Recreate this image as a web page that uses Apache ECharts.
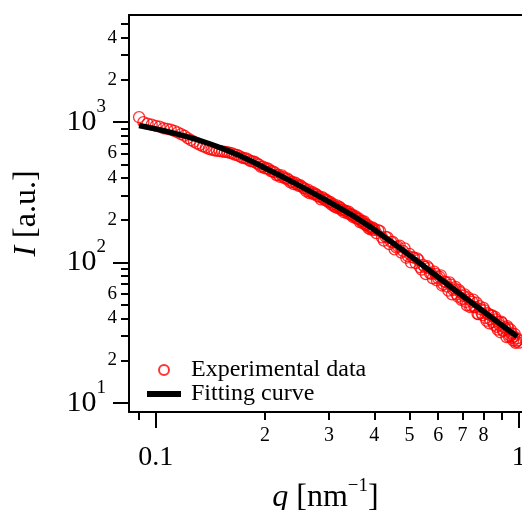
<!DOCTYPE html>
<html>
<head>
<meta charset="utf-8">
<script src="https://cdn.jsdelivr.net/npm/echarts@6/dist/echarts.min.js"></script>
<style>
  html, body { margin: 0; padding: 0; background: #fff; }
  #chart { width: 522px; height: 510px; }
</style>
</head>
<body>
<div id="chart"></div>
<script>
// measured points, q in nm^-1, I in a.u.
const expQ = [
  0.0900, 0.0925, 0.0950, 0.0975, 0.1000, 0.1025, 0.1050, 0.1075, 0.1100, 0.1125,
  0.1150, 0.1175, 0.1200, 0.1225, 0.1250, 0.1275, 0.1300, 0.1325, 0.1350, 0.1375,
  0.1400, 0.1425, 0.1450, 0.1475, 0.1500, 0.1525, 0.1550,
  0.1575, 0.1600, 0.1625, 0.1650, 0.1675, 0.1700, 0.1725, 0.1750, 0.1775, 0.1800,
  0.1825, 0.1850, 0.1875, 0.1900, 0.1925, 0.1950, 0.1975, 0.2000, 0.2025, 0.2050,
  0.2075, 0.2100, 0.2125, 0.2150, 0.2175, 0.2200, 0.2225, 0.2250, 0.2275, 0.2300,
  0.2325, 0.2350, 0.2375, 0.2400, 0.2425, 0.2450, 0.2475, 0.2500, 0.2525, 0.2550,
  0.2575, 0.2600, 0.2625, 0.2650, 0.2675, 0.2700, 0.2725, 0.2750, 0.2775, 0.2800,
  0.2825, 0.2850, 0.2875, 0.2900, 0.2925, 0.2950, 0.2975, 0.3000, 0.3025, 0.3050,
  0.3075, 0.3100, 0.3125, 0.3150, 0.3175, 0.3200, 0.3225, 0.3250, 0.3275, 0.3300,
  0.3325, 0.3350, 0.3375, 0.3400, 0.3425, 0.3450, 0.3475, 0.3500, 0.3525, 0.3550,
  0.3575, 0.3600, 0.3625, 0.3650, 0.3675, 0.3700, 0.3725, 0.3750, 0.3775, 0.3800,
  0.3825, 0.3850, 0.3875, 0.3900, 0.3925, 0.3950, 0.3975, 0.4000,
  0.405, 0.410, 0.415, 0.420, 0.425, 0.430, 0.435, 0.440, 0.445, 0.450,
  0.455, 0.460, 0.465, 0.470, 0.475, 0.480, 0.485, 0.490, 0.495, 0.500,
  0.505, 0.510, 0.515, 0.520, 0.525, 0.530, 0.535, 0.540, 0.545, 0.550,
  0.555, 0.560, 0.565, 0.570, 0.575, 0.580, 0.585, 0.590, 0.595, 0.600,
  0.605, 0.610, 0.615, 0.620, 0.625, 0.630, 0.635, 0.640, 0.645, 0.650,
  0.655, 0.660, 0.665, 0.670, 0.675, 0.680, 0.685, 0.690, 0.695, 0.700,
  0.705, 0.710, 0.715, 0.720, 0.725, 0.730, 0.735, 0.740, 0.745, 0.750,
  0.755, 0.760, 0.765, 0.770, 0.775, 0.780, 0.785, 0.790, 0.795, 0.800,
  0.805, 0.810, 0.815, 0.820, 0.825, 0.830, 0.835, 0.840, 0.845, 0.850,
  0.855, 0.860, 0.865, 0.870, 0.875, 0.880, 0.885, 0.890, 0.895, 0.900,
  0.905, 0.910, 0.915, 0.920, 0.925, 0.930, 0.935, 0.940, 0.945, 0.950,
  0.955, 0.960, 0.965, 0.970, 0.975, 0.980, 0.985, 0.990, 0.995, 1.000
];
const expI = [
  1085, 1000, 975, 960, 940, 930, 905, 895, 885, 868,
  845, 822, 800, 770, 745, 725, 705, 690, 672, 660,
  645, 638, 630, 625, 622, 618, 615,
  612, 605, 600, 588, 584, 572, 560, 555, 552, 540,
  528, 525, 520, 508, 498, 480, 482, 468, 470, 462,
  448, 446, 438, 420, 422, 408, 418, 405, 396, 398,
  388, 372, 376, 362, 370, 360, 352, 355, 348, 340,
  336, 322, 330, 312, 316, 318, 306, 310, 304, 296,
  294, 282, 292, 286, 278, 280, 274, 268, 270, 258,
  262, 252, 248, 255, 244, 250, 246, 236, 238, 228,
  234, 232, 224, 230, 222, 218, 220, 210, 212, 214,
  206, 204, 206, 194, 198, 198, 190, 196, 188, 184,
  186, 176, 180, 172, 176, 178, 170, 174,
  162, 170, 167, 151, 143, 152, 151, 135, 140, 140,
  124, 128, 130, 132, 117.6, 121, 126, 108, 111, 115,
  100, 109, 108, 99, 107, 104, 92.5, 89, 95.9, 93,
  82.5, 94, 91.2, 83.5, 83.1, 77, 86.1, 83, 74.6, 77,
  79.1, 81, 68.5, 70, 72.9, 72.5, 67.2, 63, 72, 69.5,
  59.3, 63.7, 65.3, 67, 59.1, 57, 63.4, 61.4, 54.1, 55.1,
  57.8, 59.2, 52.3, 49.4, 56.4, 54.6, 48, 49, 52.4, 54.4,
  48.1, 48, 51.7, 42.9, 42.8, 48.9, 46.4, 43.6, 42.1, 47.5,
  45.5, 40.2, 38.4, 43.6, 42.6, 36.8, 39.2, 42, 41.9, 37.5,
  35.9, 41, 39.3, 34.7, 33.2, 37.7, 35.8, 31.8, 37.9, 37.1,
  32.5, 32.6, 34.6, 33.5, 29.4, 35.2, 34.1, 29.5, 30.2, 33.2,
  31.2, 29, 27.8, 29.7, 30.9, 26.7, 27.3, 28.8, 27.9, 26.8
];

// fitted model
const fitQ = [0.090, 0.095, 0.100, 0.106, 0.113, 0.121, 0.130, 0.142, 0.155, 0.170, 0.185,
  0.200, 0.220, 0.240, 0.260, 0.287, 0.320, 0.354, 0.390, 0.423, 0.480, 0.535, 0.594,
  0.660, 0.734, 0.800, 0.870, 0.940, 0.990];
const fitI = [946, 921, 895, 865, 831, 793, 751, 696, 640, 578, 522,
  472, 417, 371, 332, 289, 246, 211, 179.5, 154.5, 122, 98.5, 80,
  65, 52.8, 44.7, 38.0, 32.7, 29.7];

// axis ticks and labels
const xMajorTicks = [0.1, 1];
const xMinorTicks = [0.09, 0.2, 0.3, 0.4, 0.5, 0.6, 0.7, 0.8, 0.9];
const xMinorLabels = [0.2, 0.3, 0.4, 0.5, 0.6, 0.7, 0.8];
const yMajorTicks = [10, 100, 1000];
const yMinorTicks = [20, 30, 40, 50, 60, 70, 80, 90, 200, 300, 400, 500, 600, 700, 800, 900,
  2000, 3000, 4000, 5000];
const yMinorLabels = [20, 40, 60, 200, 400, 600, 2000, 4000];

const X_MIN = 0.08443, X_MAX = 1.021;
const Y_MIN = 8.59, Y_MAX = 5808;
const FONT = 'Liberation Serif';
const BLACK = '#000';

const chart = echarts.init(document.getElementById('chart'));

const tickLine = { color: BLACK, width: 2 };
const baseX = {
  type: 'log', logBase: 10, min: X_MIN, max: X_MAX,
  splitLine: { show: false }, minorTick: { show: false }
};
const baseY = {
  type: 'log', logBase: 10, min: Y_MIN, max: Y_MAX,
  splitLine: { show: false }, minorTick: { show: false }
};

const option = {
  animation: false,
  backgroundColor: '#fff',
  textStyle: { fontFamily: FONT },
  grid: { left: 129, right: 0, top: 15, bottom: 98, containLabel: false, outerBoundsMode: 'none' },
  legend: {
    orient: 'vertical',
    left: 139,
    top: 353,
    itemWidth: 34,
    itemHeight: 10,
    itemGap: 0,
    textStyle: { fontFamily: FONT, fontSize: 24, color: BLACK, padding: [0, 0, 0, 5] },
    data: [
      'Experimental data',
      { name: 'Fitting curve', itemStyle: { opacity: 0 }, lineStyle: { width: 6, color: BLACK } }
    ]
  },
  xAxis: [
    Object.assign({}, baseX, {
      position: 'bottom',
      axisLine: { show: true, onZero: false, lineStyle: tickLine },
      axisTick: { show: true, customValues: xMajorTicks, length: 16, lineStyle: tickLine },
      axisLabel: {
        customValues: xMajorTicks, margin: 32, fontSize: 28, color: BLACK, fontFamily: FONT,
        formatter: v => (v >= 1 ? '1' : '0.1')
      },
      name: '{i|q} [nm{s|\u22121}]',
      nameLocation: 'middle',
      nameGap: 62,
      nameTextStyle: {
        fontFamily: FONT, fontSize: 32, color: BLACK,
        rich: {
          i: { fontFamily: FONT, fontSize: 32, fontStyle: 'italic', color: BLACK },
          s: { fontFamily: FONT, fontSize: 19, color: BLACK, padding: [0, 0, 22, 0] }
        }
      }
    }),
    Object.assign({}, baseX, {
      position: 'bottom',
      axisLine: { show: false, onZero: false },
      axisTick: { show: true, customValues: xMinorTicks, length: 8, lineStyle: tickLine },
      axisLabel: {
        customValues: xMinorLabels, margin: 14, fontSize: 20, color: BLACK, fontFamily: FONT,
        formatter: v => String(Math.round(v * 10))
      }
    }),
    Object.assign({}, baseX, {
      position: 'top',
      axisLine: { show: true, onZero: false, lineStyle: tickLine },
      axisTick: { show: false },
      axisLabel: { show: false }
    })
  ],
  yAxis: [
    Object.assign({}, baseY, {
      position: 'left',
      axisLine: { show: true, onZero: false, lineStyle: tickLine },
      axisTick: { show: true, customValues: yMajorTicks, length: 16, lineStyle: tickLine },
      axisLabel: {
        customValues: yMajorTicks, margin: 23, color: BLACK,
        formatter: v => '{b|10}{s|' + Math.round(Math.log10(v)) + '}',
        rich: {
          b: { fontFamily: FONT, fontSize: 30, color: BLACK },
          s: { fontFamily: FONT, fontSize: 19, color: BLACK, padding: [0, 0, 30, 0] }
        }
      },
      name: '{i|I} [a.u.]',
      nameLocation: 'middle',
      nameRotate: 90,
      nameGap: 86,
      nameTextStyle: {
        fontFamily: FONT, fontSize: 32, color: BLACK,
        rich: {
          i: { fontFamily: FONT, fontSize: 32, fontStyle: 'italic', color: BLACK }
        }
      }
    }),
    Object.assign({}, baseY, {
      position: 'left',
      axisLine: { show: false, onZero: false },
      axisTick: { show: true, customValues: yMinorTicks, length: 8, lineStyle: tickLine },
      axisLabel: {
        customValues: yMinorLabels, margin: 12, fontSize: 19, color: BLACK, fontFamily: FONT,
        formatter: v => String(Math.round(v / Math.pow(10, Math.floor(Math.log10(v) + 1e-9))))
      }
    })
  ],
  series: [
    {
      name: 'Experimental data',
      type: 'scatter',
      xAxisIndex: 0,
      yAxisIndex: 0,
      symbol: 'circle',
      symbolSize: 11,
      itemStyle: { color: 'rgba(255,0,0,0)', borderColor: '#ff0000', borderWidth: 1.3 },
      data: expQ.map((q, i) => [q, expI[i]])
    },
    {
      name: 'Fitting curve',
      type: 'line',
      xAxisIndex: 0,
      yAxisIndex: 0,
      showSymbol: false,
      symbol: 'none',
      smooth: false,
      lineStyle: { color: BLACK, width: 5.5 },
      itemStyle: { color: BLACK },
      data: fitQ.map((q, i) => [q, fitI[i]])
    }
  ]
};

chart.setOption(option);
</script>
</body>
</html>
